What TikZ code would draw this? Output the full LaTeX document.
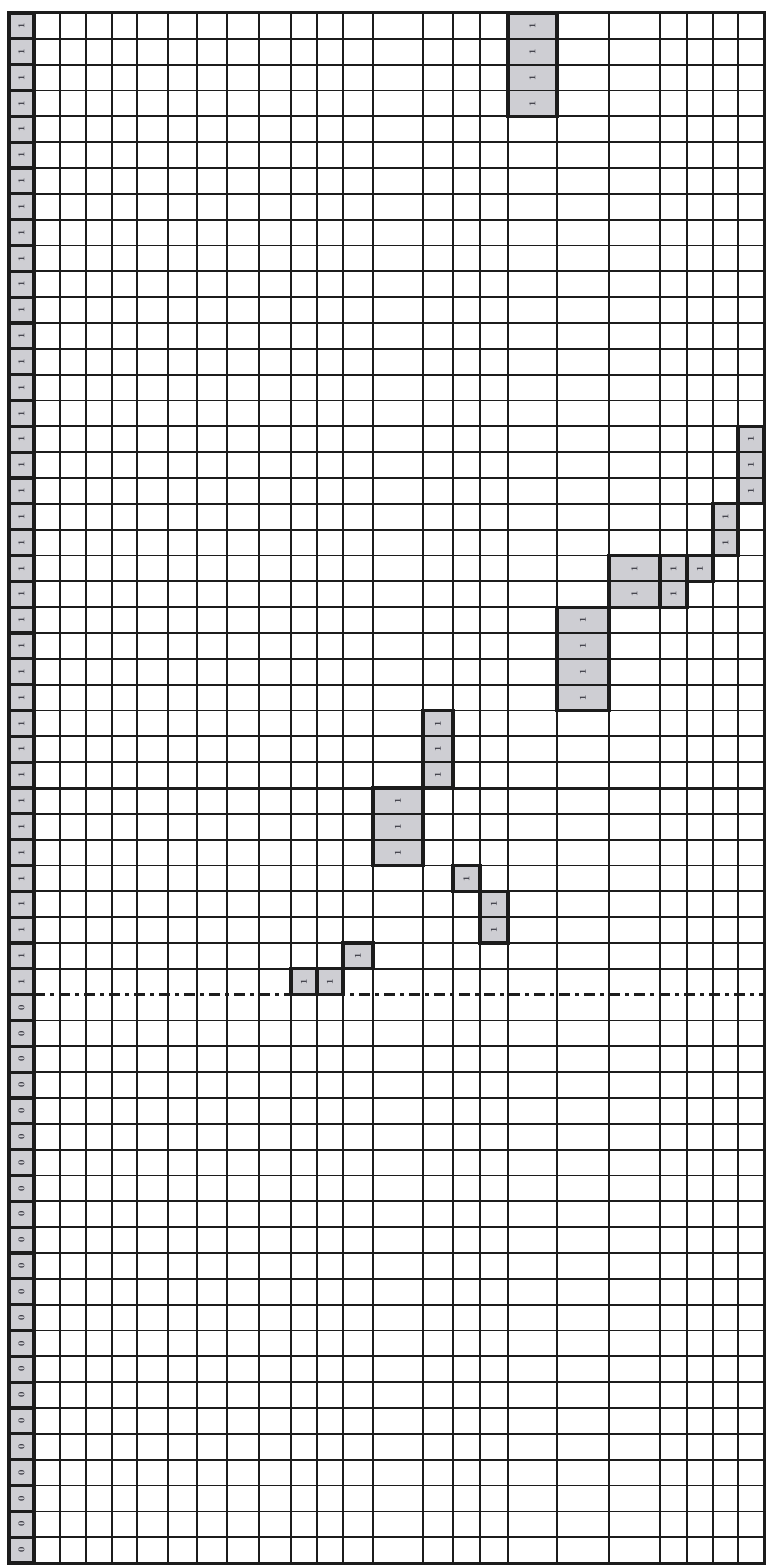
\documentclass[tikz,border=0pt]{standalone}
\usepackage{tikz}
\definecolor{cellgray}{RGB}{206,206,211}
\definecolor{ink}{RGB}{28,28,28}
\definecolor{glyph}{RGB}{45,45,55}
\def\cx{{9,34,60,86,112,137,168,197,227,259,291,317,343,373,423,453,480,508,557,609,660,687,713,738,764}}
\def\rh{25.8333}
\begin{document}
\begin{tikzpicture}[x=1pt,y=-1pt,
  gridline/.style={draw=ink,line width=1.7pt},
  heavyline/.style={draw=ink,line width=3pt},
  dashdotline/.style={draw=ink,line width=3pt,dash pattern=on 11pt off 5pt on 4pt off 5pt},
  blockedge/.style={draw=ink,line width=3.2pt,line join=miter},
  digit/.style={inner sep=0pt,font=\fontsize{9}{9}\selectfont\bfseries,text=glyph,rotate=90},
]
\useasboundingbox (0,0) rectangle (767,1568);
\fill[white] (0,0) rectangle (767,1568);
% gray fills
\fill[cellgray] (9,13) rectangle (34,1563);
\foreach \c/\a/\b in {17/0/3,23/16/18,22/19/20,19/21/22,20/21/22,21/21/21,18/23/26,14/27/29,13/30/32,15/33/33,16/34/35,12/36/36,10/37/37,11/37/37}{
  \pgfmathsetmacro\xa{\cx[\c]}\pgfmathsetmacro\xb{\cx[\c+1]}
  \pgfmathsetmacro\ya{13+\a*\rh}\pgfmathsetmacro\yb{13+(\b+1)*\rh}
  \fill[cellgray] (\xa,\ya) rectangle (\xb,\yb);
}
% grid
\foreach \i in {1,...,23}{
  \pgfmathsetmacro\xa{\cx[\i]}
  \draw[gridline] (\xa,13) -- (\xa,1563);
}
\foreach \r in {1,...,59}{
  \ifnum\r=30\else\ifnum\r=38\else
    \pgfmathsetmacro\ya{13+\r*\rh}
    \draw[gridline] (9,\ya) -- (764,\ya);
  \fi\fi
}
\pgfmathsetmacro\ythirty{13+30*\rh}
\pgfmathsetmacro\ythirtyeight{13+38*\rh}
\coordinate (sa) at (34,\ythirty);
\coordinate (sb) at (764,\ythirty);
\coordinate (da) at (34,\ythirtyeight);
\coordinate (db) at (764,\ythirtyeight);
\draw[heavyline] (sa) -- (sb);
\draw[dashdotline] (da) -- (db);
% outer frame
\draw[heavyline] (9,13) rectangle (764,1563);
% left column cells
\foreach \r in {0,...,59}{
  \pgfmathsetmacro\ya{13+\r*\rh}\pgfmathsetmacro\yb{13+(\r+1)*\rh}
  \pgfmathsetmacro\ym{13+(\r+0.5)*\rh}
  \draw[blockedge] (9,\ya) rectangle (34,\yb);
  \node[digit] (L\r) at (21.5,\ym) {\ifnum\r<38 1\else 0\fi};
}
% highlighted blocks
\foreach \c/\a/\b in {17/0/3,23/16/18,22/19/20,19/21/22,20/21/22,21/21/21,18/23/26,14/27/29,13/30/32,15/33/33,16/34/35,12/36/36,10/37/37,11/37/37}{
  \pgfmathsetmacro\xa{\cx[\c]}\pgfmathsetmacro\xb{\cx[\c+1]}
  \pgfmathsetmacro\ya{13+\a*\rh}\pgfmathsetmacro\yb{13+(\b+1)*\rh}
  \pgfmathsetmacro\xm{(\xa+\xb)/2}
  \draw[blockedge] (\xa,\ya) rectangle (\xb,\yb);
  \foreach \r in {\a,...,\b}{
    \pgfmathsetmacro\ym{13+(\r+0.5)*\rh}
    \node[digit] (B\c-\r) at (\xm,\ym) {1};
  }
}
\end{tikzpicture}
\end{document}
